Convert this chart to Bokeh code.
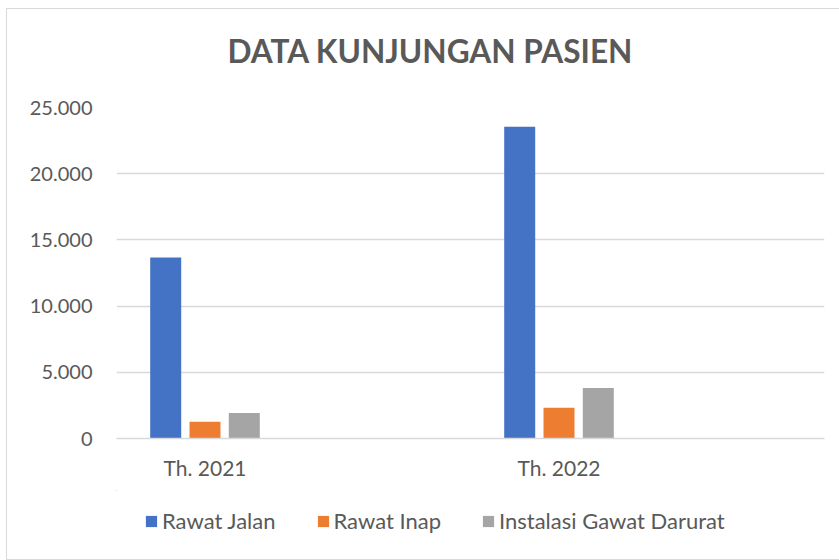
from bokeh.plotting import figure
from bokeh.layouts import column
from bokeh.models import (FixedTicker, Legend, LegendItem, Title, Range1d)
from bokeh.embed import file_html
from bokeh.resources import INLINE

# ---- data ----
categories = ["Th. 2021", "Th. 2022"]
series_names = ["Rawat Jalan", "Rawat Inap", "Instalasi Gawat Darurat"]
rawat_jalan = [13670, 23540]
rawat_inap = [1260, 2320]
igd = [1920, 3810]
y_ticks = [0, 5000, 10000, 15000, 20000, 25000]
y_tick_labels = ["0", "5.000", "10.000", "15.000", "20.000", "25.000"]
title_text = "DATA KUNJUNGAN PASIEN"

# ---- style ----
colors = ["#4472C4", "#ED7D31", "#A5A5A5"]
text_color = "#595959"
grid_color = "#D9D9D9"
FONT = "Lato"

group_center = 0.25
offsets = [-0.111, 0.0, 0.111]
bar_w = 0.0876

all_series = [rawat_jalan, rawat_inap, igd]

def bar_x(s):
    return [i + group_center + offsets[s] for i in range(len(categories))]

# ---------------- main chart ----------------
p = figure(width=832, height=481, output_backend="svg", toolbar_location=None,
           x_range=Range1d(0, 2), y_range=Range1d(0, 25000), title=None)
p.min_border_left = 109
p.min_border_right = 15
p.min_border_top = 98
p.min_border_bottom = 52
p.outline_line_color = None
p.background_fill_color = "white"
p.border_fill_color = "white"

for s, (vals, col) in enumerate(zip(all_series, colors)):
    p.vbar(x=bar_x(s), top=vals, width=bar_w, bottom=0, fill_color=col, line_color=None)

p.xaxis.ticker = FixedTicker(ticks=[i + group_center for i in range(len(categories))])
p.xaxis.major_label_overrides = {i + group_center: c for i, c in enumerate(categories)}
p.xaxis.axis_line_color = grid_color
p.xaxis.axis_line_width = 1.5
p.xaxis.major_tick_line_color = None
p.xaxis.minor_tick_line_color = None
p.xaxis.major_label_text_font = FONT
p.xaxis.major_label_text_font_size = "21px"
p.xaxis.major_label_text_color = text_color
p.xaxis.major_label_standoff = 10

p.yaxis.ticker = FixedTicker(ticks=y_ticks)
p.yaxis.major_label_overrides = {t: l for t, l in zip(y_ticks, y_tick_labels)}
p.yaxis.axis_line_color = None
p.yaxis.major_tick_line_color = None
p.yaxis.minor_tick_line_color = None
p.yaxis.major_label_text_font = FONT
p.yaxis.major_label_text_font_size = "20px"
p.yaxis.major_label_text_color = text_color
p.yaxis.major_label_standoff = 18

p.xgrid.grid_line_color = None
p.ygrid.grid_line_color = grid_color
p.ygrid.grid_line_width = 1.5

top_spacer = Title(text=" ", text_font_size="1px", standoff=29)
p.add_layout(top_spacer, "above")
title = Title(text=title_text, text_font=FONT, text_font_style="bold",
              text_font_size="31.6px", text_color=text_color, align="left",
              offset=111, vertical_align="middle", standoff=10)
p.add_layout(title, "above")

# ---------------- legend strip ----------------
# the key bars use the same series but sit outside this strip's visible ranges
lp = figure(width=832, height=69, output_backend="svg", toolbar_location=None,
            x_range=Range1d(10, 12), y_range=Range1d(-2, -1), title=None,
            x_axis_location=None, y_axis_location=None)
lp.min_border_left = 0
lp.min_border_right = 0
lp.min_border_top = 0
lp.min_border_bottom = 0
lp.outline_line_color = None
lp.xgrid.grid_line_color = None
lp.ygrid.grid_line_color = None
lp.background_fill_color = "white"
lp.border_fill_color = "white"

keys = [lp.vbar(x=bar_x(s), top=vals, width=bar_w, bottom=0, fill_color=col, line_color=None)
        for s, (vals, col) in enumerate(zip(all_series, colors))]
legend = Legend(items=[LegendItem(label=n, renderers=[r]) for n, r in zip(series_names, keys)],
                orientation="horizontal", location=(28, 25))
legend.label_text_font = FONT
legend.label_text_font_size = "22px"
legend.label_text_color = text_color
legend.glyph_width = 14
legend.glyph_height = 14
legend.label_standoff = 4
legend.spacing = 40
legend.padding = 0
legend.margin = 0
legend.border_line_color = None
legend.background_fill_alpha = 0
lp.add_layout(legend, "center")

layout = column(p, lp, spacing=0,
                styles={"margin-left": "6px", "margin-top": "8px",
                        "border-left": "1px solid #D9D9D9",
                        "border-top": "1px solid #D9D9D9",
                        "border-bottom": "1px solid #D9D9D9"})

open("out.html", "w").write(file_html(layout, INLINE))
